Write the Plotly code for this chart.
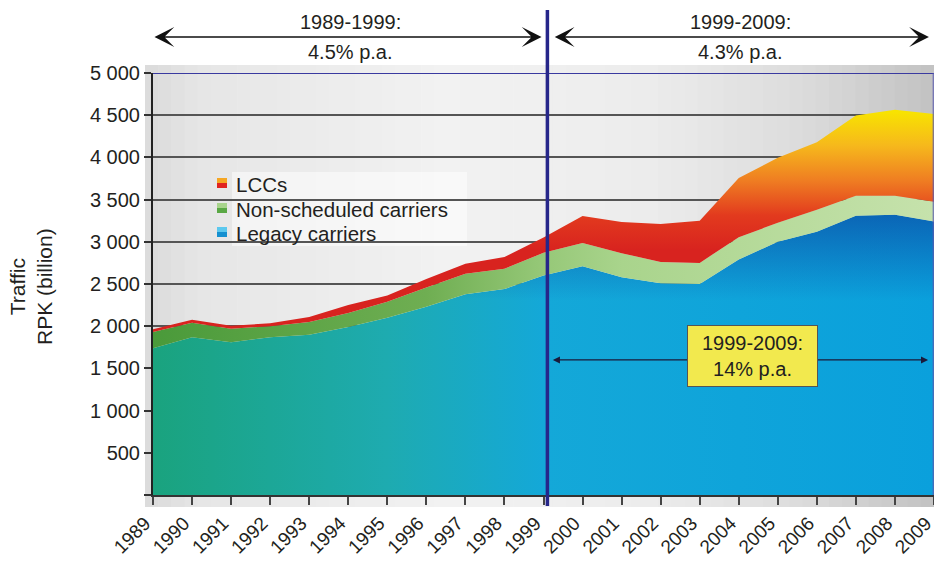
import numpy as np
import plotly.graph_objects as go

# ---------------- data ----------------
years = list(range(1989, 2010))
legacy = [1740, 1870, 1810, 1870, 1900, 1990, 2100, 2230, 2380, 2440, 2600,
          2710, 2580, 2510, 2500, 2790, 3000, 3120, 3310, 3320, 3240]
non_scheduled = [190, 170, 160, 130, 150, 165, 190, 230, 240, 240, 270,
                 275, 285, 250, 250, 265, 225, 260, 235, 225, 235]
lccs = [35, 35, 35, 35, 60, 95, 75, 100, 120, 140, 180,
        320, 370, 450, 500, 700, 770, 800, 950, 1020, 1040]
series_names = ["Legacy carriers", "Non-scheduled carriers", "LCCs"]
y_tickvals = [0, 500, 1000, 1500, 2000, 2500, 3000, 3500, 4000, 4500, 5000]
y_ticktext = ["", "500", "1 000", "1 500", "2 000", "2 500", "3 000",
              "3 500", "4 000", "4 500", "5 000"]
period1_text = ["1989-1999:", "4.5% p.a."]
period2_text = ["1999-2009:", "4.3% p.a."]
lcc_growth_text = "1999-2009:<br>14% p.a."

FONT = "Liberation Sans, Arial, sans-serif"
TXT = "#231f20"

top_legacy = np.array(legacy)
top_nonsched = top_legacy + np.array(non_scheduled)
top_lcc = top_nonsched + np.array(lccs)

fig = go.Figure()

# Legacy carriers
fig.add_trace(go.Scatter(
    x=years, y=top_legacy, mode="lines", line=dict(width=0), fill="tozeroy",
    fillgradient=dict(type="horizontal", start=1989, stop=2009,
                      colorscale=[[0, "#1aa37e"], [0.3, "#1eabb0"], [0.5, "#14a8d8"], [1, "#0aa0dc"]]),
    name=series_names[0], showlegend=False, hoverinfo="skip"))
# shading overlay on upper part of legacy
fig.add_trace(go.Scatter(
    x=years, y=top_legacy, mode="lines", line=dict(width=0), fill="tozeroy",
    fillgradient=dict(type="vertical", start=2300, stop=3350,
                      colorscale=[[0, "rgba(10,50,150,0)"], [1, "rgba(10,50,150,0.55)"]]),
    showlegend=False, hoverinfo="skip"))
# Non-scheduled
fig.add_trace(go.Scatter(
    x=years, y=top_nonsched, mode="lines", line=dict(width=0), fill="tonexty",
    fillgradient=dict(type="horizontal", start=1989, stop=2009,
                      colorscale=[[0, "#4a9a3a"], [0.35, "#6fae52"], [0.5, "#96c878"],
                                  [0.6, "#a9d48c"], [1, "#c6e2ac"]]),
    name=series_names[1], showlegend=False, hoverinfo="skip"))
# LCCs
fig.add_trace(go.Scatter(
    x=years, y=top_lcc, mode="lines", line=dict(width=0), fill="tonexty",
    fillgradient=dict(type="vertical", start=2900, stop=4550,
                      colorscale=[[0, "#d8231f"], [0.25, "#e23a1e"], [0.5, "#ef7d22"],
                                  [0.75, "#f6b81c"], [1, "#f8e400"]]),
    name=series_names[2], showlegend=False, hoverinfo="skip"))

# ---------------- layout geometry helpers ----------------
L, R, T, B = 153, 0, 73, 66
W, H = 934, 561
PW, PH = W - L - R, H - T - B


def px_x(p):
    return (p - L) / PW


def px_y(p):
    return (H - B - p) / PH


def lerp_color(stops, p):
    for (p0, c0), (p1, c1) in zip(stops[:-1], stops[1:]):
        if p0 <= p <= p1:
            t = (p - p0) / (p1 - p0)
            a = [int(c0[i:i + 2], 16) for i in (1, 3, 5)]
            b = [int(c1[i:i + 2], 16) for i in (1, 3, 5)]
            return "rgb(%d,%d,%d)" % tuple(round(a[k] + (b[k] - a[k]) * t) for k in range(3))
    return stops[-1][1]


shapes = []
bg_stops = [(145, "#dadada"), (200, "#e6e6e6"), (450, "#f2f2f2"), (650, "#ececec"),
            (800, "#dcdcdc"), (934, "#c2c2c2")]
n = 60
x0p, x1p = 145, 934
for i in range(n):
    a = x0p + (x1p - x0p) * i / n
    b = x0p + (x1p - x0p) * (i + 1) / n + 0.6
    shapes.append(dict(type="rect", xref="paper", yref="paper", x0=px_x(a), x1=px_x(b),
                       y0=px_y(507), y1=px_y(65), line=dict(width=0),
                       fillcolor=lerp_color(bg_stops, (a + b) / 2), layer="below"))

# legend background
shapes.append(dict(type="rect", xref="paper", yref="paper", x0=px_x(232), x1=px_x(467),
                   y0=px_y(246), y1=px_y(172), line=dict(width=0),
                   fillcolor="rgba(255,255,255,0.5)", layer="below"))
# top border (blue) and right border
shapes.append(dict(type="line", xref="paper", yref="y", x0=0, x1=1, y0=5000, y1=5000,
                   line=dict(color="#3a3aa0", width=2), layer="above"))
shapes.append(dict(type="line", xref="paper", yref="paper", x0=0.999, x1=0.999, y0=0, y1=1,
                   line=dict(color="#5a5ab0", width=1), layer="above"))
# vertical 1999 line
shapes.append(dict(type="line", xref="x", yref="paper", x0=1999.1, x1=1999.1,
                   y0=px_y(506), y1=px_y(10), line=dict(color="#26268a", width=3.5), layer="above"))

# legend squares (two-tone)
leg_items = [(183, "#f5a623", "#e0231f"), (208, "#a8d48c", "#5aa845"), (232, "#5cc8ee", "#1590d0")]
for yc, ctop, cbot in leg_items:
    shapes.append(dict(type="rect", xref="paper", yref="paper", x0=px_x(217), x1=px_x(227),
                       y0=px_y(yc), y1=px_y(yc - 5), line=dict(width=0), fillcolor=ctop, layer="above"))
    shapes.append(dict(type="rect", xref="paper", yref="paper", x0=px_x(217), x1=px_x(227),
                       y0=px_y(yc + 5), y1=px_y(yc), line=dict(width=0), fillcolor=cbot, layer="above"))

annotations = []
# top period texts
for xc, txt in ((350, period1_text), (740, period2_text)):
    annotations.append(dict(xref="paper", yref="paper", x=px_x(xc), y=px_y(22), text=txt[0],
                            showarrow=False, font=dict(size=20, color=TXT, family=FONT),
                            xanchor="center", yanchor="middle"))
    annotations.append(dict(xref="paper", yref="paper", x=px_x(xc), y=px_y(52), text=txt[1],
                            showarrow=False, font=dict(size=20, color=TXT, family=FONT),
                            xanchor="center", yanchor="middle"))
# top double arrows
for xa, xb in ((1989.0, 1998.95), (1999.25, 2008.87)):
    annotations.append(dict(xref="x", yref="paper", x=xb, y=px_y(37), axref="x", ayref="pixel",
                            ax=xa, ay=0, text="", showarrow=True, arrowside="end+start",
                            arrowhead=3, startarrowhead=3, arrowsize=2.2, startarrowsize=2.2,
                            arrowwidth=1.5, arrowcolor="#111"))
# inner LCC growth arrow
annotations.append(dict(xref="x", yref="y", x=2008.85, y=1600, axref="x", ayref="pixel",
                        ax=1999.2, ay=0, text="", showarrow=True, arrowside="end+start",
                        arrowhead=2, startarrowhead=2, arrowsize=1.1, startarrowsize=1.1,
                        arrowwidth=1.3, arrowcolor="#1a1a3a"))
annotations.append(dict(xref="x", yref="y", x=2004.36, y=1650, text=lcc_growth_text,
                        showarrow=False, font=dict(size=20, color=TXT, family=FONT),
                        bgcolor="#f2e94e", bordercolor="#555", borderwidth=1, borderpad=1,
                        width=127, height=58, align="center"))
# legend texts
for yc, name in zip((184, 210, 233), series_names[::-1]):
    annotations.append(dict(xref="paper", yref="paper", x=px_x(234), y=px_y(yc), text=name,
                            showarrow=False, font=dict(size=20.5, color=TXT, family=FONT),
                            xanchor="left", yanchor="middle"))
# y axis title
annotations.append(dict(xref="paper", yref="paper", x=px_x(31), y=px_y(287),
                        text="Traffic<br>RPK (billion)", textangle=-90, showarrow=False,
                        font=dict(size=21, color=TXT, family=FONT), xanchor="center", yanchor="middle"))

fig.update_layout(
    width=W, height=H, margin=dict(l=L, r=R, t=T, b=B, pad=0, autoexpand=False),
    paper_bgcolor="white", plot_bgcolor="rgba(0,0,0,0)",
    font=dict(family=FONT, color=TXT),
    shapes=shapes, annotations=annotations, showlegend=False,
    xaxis=dict(range=[1989, 2009.0001], tickvals=years, ticktext=[str(y) for y in years],
               tickangle=-45, tickfont=dict(size=19, color=TXT, family=FONT),
               ticklabeloverflow="allow", automargin=False, ticklabelshift=-8,
               ticks="outside", ticklen=8, tickwidth=2, tickcolor="#444",
               showgrid=False, showline=True, linecolor="#333", linewidth=1.5, zeroline=False),
    yaxis=dict(range=[0, 5000], tickvals=y_tickvals, ticktext=y_ticktext,
               tickfont=dict(size=20, color=TXT, family=FONT), automargin=False,
               ticks="outside", ticklen=7, tickwidth=2, tickcolor="#333",
               showgrid=True, gridcolor="#555", gridwidth=2,
               showline=True, linecolor="#222", linewidth=2, zeroline=False),
)

fig.write_html("out.html", config={"displayModeBar": False},
               post_script="document.body.style.margin='0px';document.body.style.overflow='hidden';")
